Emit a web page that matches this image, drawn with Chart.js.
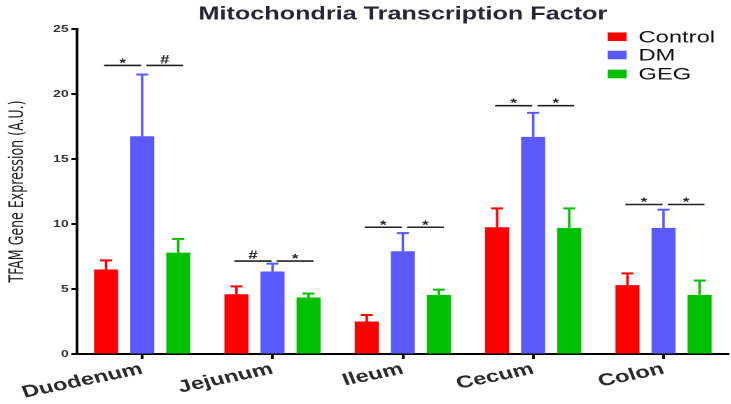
<!DOCTYPE html>
<html>
<head>
<meta charset="utf-8">
<script src="https://cdn.jsdelivr.net/npm/chart.js@4.4.1/dist/chart.umd.min.js"></script>
<style>
  html, body { margin: 0; padding: 0; background: #fff; overflow: hidden; }
  #wrap { width: 522px; height: 404px; transform: scaleX(1.4); transform-origin: 0 0; }
</style>
</head>
<body>
<div id="wrap"><canvas id="c" width="522" height="404"></canvas></div>
<script>
const chartTitle = 'Mitochondria Transcription Factor';
const yAxisTitle = 'TFAM Gene Expression (A.U.)';
const categories = ['Duodenum', 'Jejunum', 'Ileum', 'Cecum', 'Colon'];
const seriesNames = ['Control', 'DM', 'GEG'];
const control    = [6.5, 4.6, 2.5, 9.75, 5.3];
const controlErr = [0.7, 0.6, 0.5, 1.45, 0.9];
const dm         = [16.75, 6.35, 7.9, 16.7, 9.7];
const dmErr      = [4.75, 0.6, 1.4, 1.85, 1.4];
const geg        = [7.8, 4.35, 4.55, 9.7, 4.55];
const gegErr     = [1.05, 0.3, 0.4, 1.5, 1.1];
const yTicks     = [0, 5, 10, 15, 20, 25];
const sigLevel   = [22.2, 7.15, 9.75, 19.1, 11.5];
const sigLeft    = ['*', '#', '*', '*', '*'];
const sigRight   = ['#', '*', '*', '*', '*'];

const colors = ['#ff0000', '#5a5aff', '#00c000'];
const FONT = "'Liberation Sans', Arial, sans-serif";
const NARROW = "'Liberation Sans Narrow', 'Arial Narrow', 'DejaVu Sans Condensed', 'Liberation Sans', sans-serif";

const errorBars = {
  id: 'errorBars',
  afterDatasetsDraw(chart) {
    const ctx = chart.ctx, y = chart.scales.y;
    chart.data.datasets.forEach((ds, di) => {
      const meta = chart.getDatasetMeta(di);
      meta.data.forEach((bar, i) => {
        const top = y.getPixelForValue(ds.data[i] + ds.errors[i]);
        ctx.save();
        ctx.strokeStyle = ds.backgroundColor;
        ctx.lineWidth = 1.8;
        ctx.beginPath();
        ctx.moveTo(bar.x, bar.y);
        ctx.lineTo(bar.x, top);
        ctx.stroke();
        ctx.lineWidth = 2;
        ctx.beginPath();
        ctx.moveTo(bar.x - 4.3, top);
        ctx.lineTo(bar.x + 4.3, top);
        ctx.stroke();
        ctx.restore();
      });
    });
  }
};

const sigMarks = {
  id: 'sigMarks',
  afterDatasetsDraw(chart) {
    const ctx = chart.ctx, y = chart.scales.y;
    const m0 = chart.getDatasetMeta(0), m1 = chart.getDatasetMeta(1), m2 = chart.getDatasetMeta(2);
    categories.forEach((c, i) => {
      const yy = y.getPixelForValue(sigLevel[i]);
      const a = m0.data[i].x, b = m1.data[i].x, g = m2.data[i].x;
      const segs = [[a - 1.5, b - 0.7, sigLeft[i]], [b + 3, g + 3.5, sigRight[i]]];
      ctx.save();
      ctx.strokeStyle = '#222';
      ctx.fillStyle = '#222';
      ctx.lineWidth = 1.6;
      segs.forEach(([x1, x2, t]) => {
        ctx.beginPath();
        ctx.moveTo(x1, yy);
        ctx.lineTo(x2, yy);
        ctx.stroke();
        ctx.font = 'bold 12px ' + FONT;
        ctx.textAlign = 'center';
        ctx.textBaseline = 'alphabetic';
        ctx.fillText(t, (x1 + x2) / 2, t === '*' ? yy + 1.5 : yy - 2);
      });
      ctx.restore();
    });
  }
};

const customLegend = {
  id: 'customLegend',
  afterDraw(chart) {
    const ctx = chart.ctx;
    ctx.save();
    chart.data.datasets.forEach((ds, i) => {
      const cy = [36.7, 55, 74][i];
      ctx.fillStyle = ds.backgroundColor;
      ctx.fillRect(434, cy - 4.3, 13.6, 8.6);
      ctx.fillStyle = '#111';
      ctx.font = '17px ' + FONT;
      ctx.textAlign = 'left';
      ctx.textBaseline = 'middle';
      ctx.fillText(ds.label, 456, cy + 1);
    });
    ctx.restore();
  }
};

new Chart(document.getElementById('c'), {
  type: 'bar',
  data: {
    labels: categories,
    datasets: [
      { label: seriesNames[0], data: control, errors: controlErr, backgroundColor: colors[0] },
      { label: seriesNames[1], data: dm, errors: dmErr, backgroundColor: colors[1] },
      { label: seriesNames[2], data: geg, errors: gegErr, backgroundColor: colors[2] }
    ]
  },
  options: {
    responsive: false,
    devicePixelRatio: 2,
    animation: false,
    categoryPercentage: 0.83,
    barPercentage: 0.667,
    layout: { padding: { left: 0, right: 1.5, top: 0, bottom: 0 } },
    plugins: {
      legend: { display: false },
      tooltip: { enabled: false },
      title: {
        display: true, text: chartTitle, color: '#262637', fullSize: false,
        font: { family: FONT, size: 18, weight: 'bold' },
        padding: { top: 3.5, bottom: 3.9 }
      }
    },
    scales: {
      x: {
        grid: { display: true, drawOnChartArea: false, offset: false, tickLength: 5, tickWidth: 2, tickColor: '#000' },
        border: { color: '#000', width: 2 },
        ticks: { font: { family: FONT, size: 17, weight: 'bold' }, color: '#2a2a2a', minRotation: 16, maxRotation: 16, padding: 0 },
        afterFit(s) { s.height = 50; }
      },
      y: {
        min: 0, max: 25,
        afterBuildTicks(s) { s.ticks = yTicks.map(v => ({ value: v })); },
        ticks: { font: { family: FONT, size: 10, weight: 'bold' }, color: '#333', padding: 2 },
        grid: { drawOnChartArea: false, tickLength: 4, tickWidth: 2, tickColor: '#000' },
        border: { color: '#000', width: 2 },
        title: { display: true, text: yAxisTitle, color: '#222', font: { family: NARROW, size: 14 }, padding: { top: 4.5, bottom: 0 } },
        afterFit(s) { s.width = 55; }
      }
    }
  },
  plugins: [errorBars, sigMarks, customLegend]
});
</script>
</body>
</html>
